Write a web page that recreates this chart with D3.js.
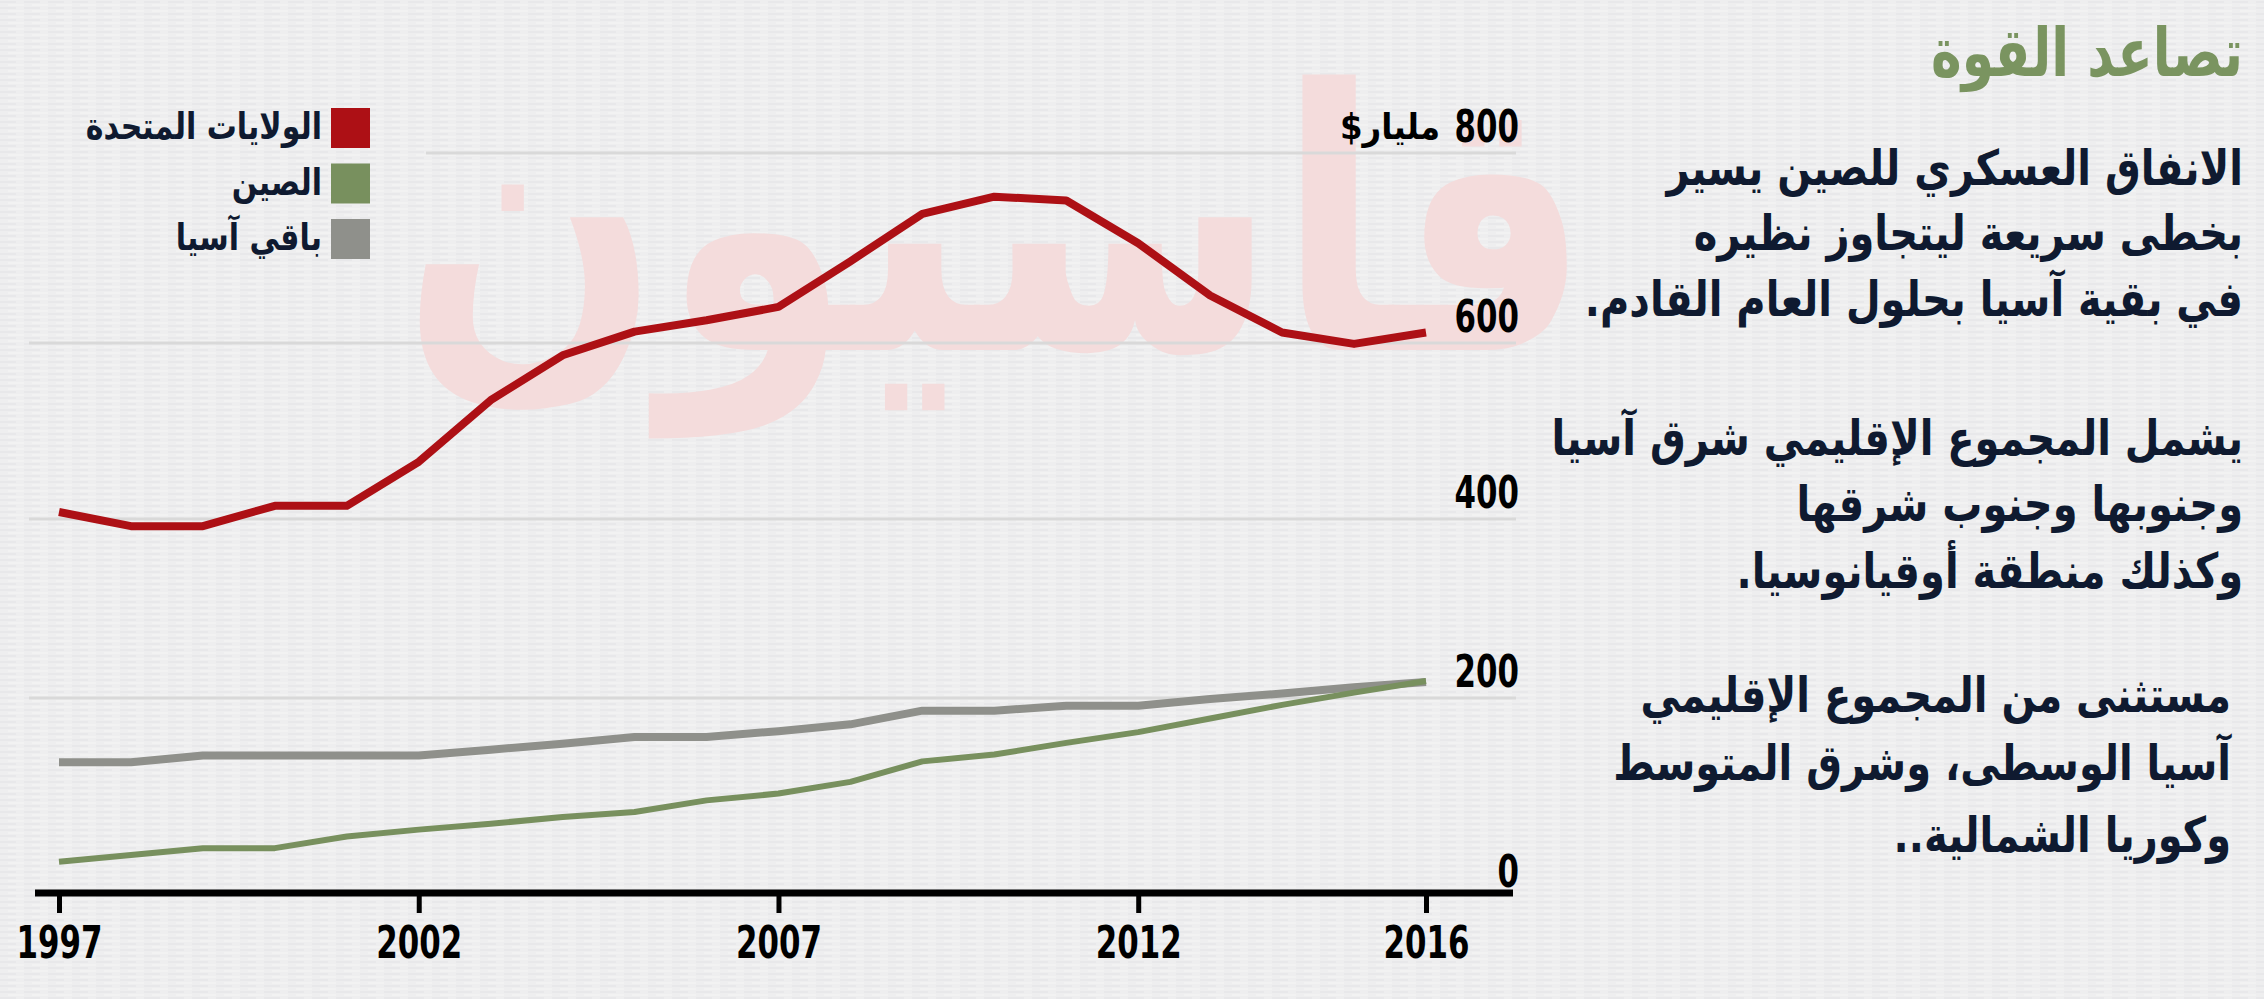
<!DOCTYPE html>
<html>
<head>
<meta charset="utf-8">
<script src="https://cdn.jsdelivr.net/npm/d3@7"></script>
<style>
  body { margin: 0; background: #eeeeee; }
  svg { display: block; }
  .num { font-family: "DejaVu Sans Condensed", "DejaVu Sans", sans-serif; font-weight: bold; }
  .ar { font-family: "DejaVu Sans", sans-serif; font-weight: bold; }
</style>
</head>
<body>
<div id="chart"></div>
<script>
// Data (billions of dollars)
const years = d3.range(1997, 2017);
const usa = [408, 392, 392, 415, 415, 465, 535, 586, 612, 624, 638, 686, 736, 754, 750, 705, 650, 611, 599, 611];
const china = [32, 39, 46, 46, 58, 65, 71, 78, 83, 95, 102, 114, 135, 142, 154, 165, 179, 193, 206, 219];
const restAsia = [134, 134, 141, 141, 141, 141, 147, 153, 160, 160, 166, 173, 187, 187, 192, 192, 199, 205, 212, 218];

const yTicks = [0, 200, 400, 600, 800];
const xTicks = [1997, 2002, 2007, 2012, 2016];

const seriesNames = ["الولايات المتحدة", "الصين", "باقي آسيا"];
const seriesColors = ["#ad1015", "#78905e", "#8f908b"];
const seriesData = [usa, china, restAsia];

const title = "تصاعد القوة";
const unit = "مليار$";
const paragraphs = [
  ["الانفاق العسكري للصين يسير", "بخطى سريعة ليتجاوز نظيره", "في بقية آسيا بحلول العام القادم."],
  ["يشمل المجموع الإقليمي شرق آسيا", "وجنوبها وجنوب شرقها", "وكذلك منطقة أوقيانوسيا."],
  ["مستثنى من المجموع الإقليمي", "آسيا الوسطى، وشرق المتوسط", "وكوريا الشمالية.."]
];

const width = 2264;
const height = 999;

const svg = d3.select("#chart")
  .append("svg")
  .attr("width", width)
  .attr("height", height);

// Arabic text helper: right aligned, stretched a bit vertically
function arText(parent, x, y, size, fill, txt, sy = 1.22) {
  return parent.append("text")
    .attr("class", "ar")
    .attr("transform", `translate(${x}, ${y}) scale(1, ${sy})`)
    .attr("text-anchor", "start")
    .attr("direction", "rtl")
    .attr("font-size", size)
    .attr("fill", fill)
    .text(txt);
}

// textured paper background
const defs = svg.append("defs");
const pat = defs.append("pattern")
  .attr("id", "paper")
  .attr("width", 24)
  .attr("height", 6)
  .attr("patternUnits", "userSpaceOnUse");
pat.append("rect").attr("width", 24).attr("height", 6).attr("fill", "#eeeeef");
pat.append("line").attr("x1", 0).attr("x2", 16).attr("y1", 2).attr("y2", 2)
  .attr("stroke", "#e2e3e5").attr("stroke-width", 1);
pat.append("line").attr("x1", 8).attr("x2", 24).attr("y1", 5).attr("y2", 5)
  .attr("stroke", "#f6f6f6").attr("stroke-width", 1);
svg.append("rect").attr("width", width).attr("height", height).attr("fill", "url(#paper)");

// watermark
svg.append("text")
  .attr("class", "ar")
  .attr("transform", "translate(996, 350) scale(1, 1.45)")
  .attr("text-anchor", "middle")
  .attr("direction", "rtl")
  .attr("font-size", 250)
  .attr("textLength", 1190)
  .attr("lengthAdjust", "spacingAndGlyphs")
  .attr("fill", "#f4dcdc")
  .text("قاسيون");

// scales (the gridlines in the picture are not quite evenly spaced)
const x = d3.scaleLinear().domain([1997, 2016]).range([59, 1426]);
const y = d3.scaleLinear().domain(yTicks).range([893, 698, 519, 343, 153]);

// gridlines
svg.append("g")
  .selectAll("line")
  .data(yTicks.slice(1))
  .join("line")
  .attr("x1", (d) => (d === 800 ? 426 : 29))
  .attr("x2", 1516)
  .attr("y1", (d) => y(d))
  .attr("y2", (d) => y(d))
  .attr("stroke", "#d9d9d9")
  .attr("stroke-width", 3);

// y labels (condensed digits)
svg.append("g")
  .selectAll("text")
  .data(yTicks)
  .join("text")
  .attr("class", "num")
  .attr("transform", (d) => `translate(1519, ${y(d) - (d === 0 ? 6 : 11)}) scale(0.78, 1)`)
  .attr("text-anchor", "end")
  .attr("font-size", 44)
  .attr("fill", "#000")
  .text((d) => d);

arText(svg, 1440, 139, 31, "#000", unit, 1.15)
  .attr("textLength", 100)
  .attr("lengthAdjust", "spacingAndGlyphs");

// lines
const line = d3.line()
  .x((d, i) => x(years[i]))
  .y((d) => y(d));

const widths = [8, 6, 8];
[2, 1, 0].forEach((k) => {
  svg.append("path")
    .datum(seriesData[k])
    .attr("fill", "none")
    .attr("stroke", seriesColors[k])
    .attr("stroke-width", widths[k])
    .attr("stroke-linejoin", "round")
    .attr("d", line);
});

// x axis
const xAxis = d3.axisBottom(x)
  .tickValues(xTicks)
  .tickFormat(d3.format("d"))
  .tickSize(20)
  .tickPadding(14);

const gx = svg.append("g")
  .attr("transform", `translate(0, ${y(0)})`)
  .call(xAxis);
gx.select(".domain").remove();
gx.selectAll(".tick line").attr("stroke", "#000").attr("stroke-width", 5);
gx.selectAll(".tick text")
  .attr("class", "num")
  .attr("transform", "scale(0.78, 1)")
  .attr("font-size", 44)
  .attr("fill", "#000");
gx.append("line")
  .attr("x1", 35)
  .attr("x2", 1513)
  .attr("stroke", "#000")
  .attr("stroke-width", 7);

// legend
const legend = svg.append("g")
  .selectAll("g")
  .data(seriesNames)
  .join("g")
  .attr("transform", (d, i) => `translate(331, ${108 + i * 55.5})`);
legend.append("rect")
  .attr("width", 39)
  .attr("height", 40)
  .attr("fill", (d, i) => seriesColors[i]);
legend.each(function (d) {
  arText(d3.select(this), -9, 31, 30, "#0f1a30", d, 1.25);
});

// title and notes
arText(svg, 2243, 76, 52, "#7a9460", title, 1.3);

const lineY = [[185, 250, 316], [455, 521, 588], [712, 780, 852]];
const rightX = [2243, 2243, 2231];
paragraphs.forEach((p, pi) => {
  const g = svg.append("g");
  p.forEach((t, i) => arText(g, rightX[pi], lineY[pi][i], 40, "#0f1a30", t, 1.22));
});
</script>
</body>
</html>
